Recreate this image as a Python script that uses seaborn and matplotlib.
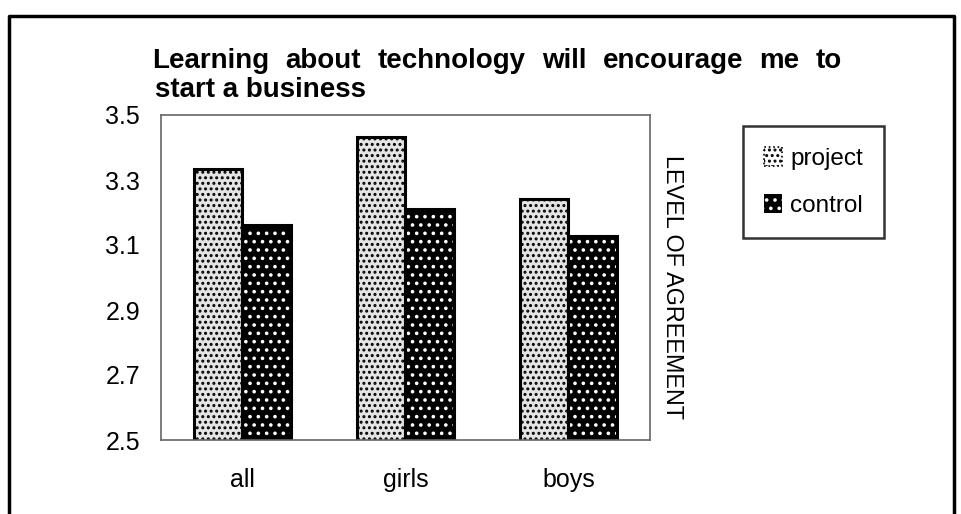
import matplotlib
matplotlib.use("Agg")
import matplotlib.pyplot as plt
import seaborn as sns
import pandas as pd
from matplotlib.patches import Patch, Rectangle
from matplotlib.lines import Line2D

categories = ["all", "girls", "boys"]
series = ["project", "control"]
project_vals = [3.334, 3.432, 3.242]
control_vals = [3.162, 3.211, 3.128]
yticks = [2.5, 2.7, 2.9, 3.1, 3.3, 3.5]
title_line1 = "Learning about technology will encourage me to"
title_line2 = "start a business"
ylabel = "LEVEL OF AGREEMENT"

df = pd.DataFrame({
    "category": categories * 2,
    "group": [series[0]] * 3 + [series[1]] * 3,
    "value": project_vals + control_vals,
})

sns.set_theme(style="white")
plt.rcParams["font.family"] = ["Liberation Sans", "DejaVu Sans"]
plt.rcParams["text.color"] = "black"
plt.rcParams["xtick.color"] = "black"
plt.rcParams["ytick.color"] = "black"
plt.rcParams["hatch.linewidth"] = 1.4

W, H = 962, 514
fig = plt.figure(figsize=(W / 100, H / 100), dpi=100)
ax = fig.add_axes([161 / W, 1 - 440 / H, (650 - 161) / W, (440 - 115) / H])

sns.barplot(data=df, x="category", y="value", hue="group", order=categories,
            hue_order=series, ax=ax, width=0.59, legend=False,
            palette={"project": "#e0e0e0", "control": "black"}, saturation=1)

n = len(categories)
for i, p in enumerate(ax.patches[:2 * n]):
    if i < n:
        p.set_facecolor("#e4e4e4")
        p.set_edgecolor("black")
        p.set_linewidth(2.2)
        p.set_hatch("...")
    else:
        p.set_facecolor("black")
        p.set_edgecolor("white")
        p.set_linewidth(0)
        p.set_hatch("..")
        x, y = p.get_xy()
        ax.add_patch(Rectangle((x, y), p.get_width(), p.get_height(),
                               fill=False, edgecolor="black", linewidth=2.2,
                               zorder=p.get_zorder()))

ax.set_ylim(2.5, 3.5)
ax.set_yticks(yticks)
ax.set_yticklabels([f"{v:.1f}" for v in yticks], fontsize=18)
ax.set_xlim(-0.5, 2.5)
ax.tick_params(axis="x", labelsize=18, pad=20, length=0)
ax.tick_params(axis="y", pad=15, length=0)
ax.set_xlabel("")
ax.set_ylabel("")
for s in ax.spines.values():
    s.set_visible(True)
    s.set_color("#666666")
    s.set_linewidth(1.2)

# title, first line justified across its width
renderer = fig.canvas.get_renderer()
words = title_line1.split()
x_left, x_right = 152, 842
texts = []
widths = []
for w in words:
    t = fig.text(0, 1 - 68 / H, w, fontsize=20, fontweight="bold",
                 ha="left", va="baseline")
    texts.append(t)
    widths.append(t.get_window_extent(renderer).width)
gap = (x_right - x_left - sum(widths)) / (len(words) - 1)
xpos = x_left
for t, wd in zip(texts, widths):
    t.set_x(xpos / W)
    xpos += wd + gap
fig.text(155 / W, 1 - 97 / H, title_line2, fontsize=20, fontweight="bold",
         ha="left", va="baseline")

fig.text(673 / W, 1 - 287 / H, ylabel, fontsize=16.8, rotation=-90,
         ha="center", va="center")

handles = [Patch(facecolor="white", edgecolor="black", hatch="...",
                 linewidth=1.2, linestyle=":"),
           Patch(facecolor="black", edgecolor="white", hatch="..", linewidth=0)]
leg = fig.legend(handles, series, loc="upper left",
                 bbox_to_anchor=(743 / W, 1 - 126 / H), fontsize=17.5,
                 frameon=True, fancybox=False, edgecolor="black",
                 handlelength=0.75, handleheight=0.85, handletextpad=0.35,
                 labelspacing=1.0, borderpad=0.85, borderaxespad=0)
leg.get_frame().set_linewidth(1.8)

# outer frame (bottom edge lies outside the picture)
fig.add_artist(Line2D([8.5 / W, 8.5 / W, 954 / W, 954 / W],
                      [0, 1 - 16 / H, 1 - 16 / H, 0],
                      transform=fig.transFigure, color="black", linewidth=2.5))

fig.savefig("out.png", dpi=100)
